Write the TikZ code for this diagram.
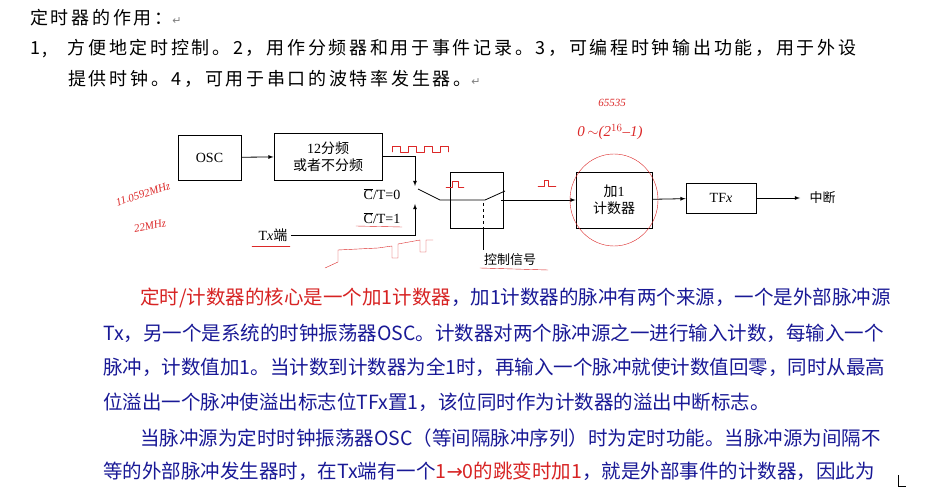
\documentclass[tikz,border=0pt]{standalone}
\usepackage{fontspec}
\setmainfont{Liberation Serif}
\newfontfamily\cjk{Noto Sans CJK SC}
\newfontfamily\cjkh{Noto Sans CJK SC}[LetterSpace=15]
\newfontfamily\cjkb{Noto Sans CJK SC}[AutoFakeBold=2.5]
\newfontfamily\arr{DejaVu Sans}
\usetikzlibrary{positioning,calc}
\definecolor{txtred}{RGB}{215,35,35}
\definecolor{txtblue}{RGB}{25,25,150}
\definecolor{pen}{RGB}{220,40,40}
\tikzset{
  blk/.style={draw, thick, minimum height=1.1cm, align=center, font=\fontsize{14}{17}\selectfont, inner sep=2pt},
  arrow/.style={thick,-latex},
  head/.style={anchor=west, inner sep=0pt, font=\cjkh\fontsize{18}{20}\selectfont},
  para/.style={anchor=west, inner sep=0pt, font=\cjkb\fontsize{19.5}{22}\selectfont, txtblue},
  hand/.style={pen, thin, line cap=round, line join=round}
}
\newcommand{\rt}[1]{\textcolor{txtred}{#1}}
\newcommand{\zh}[1]{{\cjk #1}}
\newcommand{\ret}{{\arr\color{gray}\fontsize{11}{11}\selectfont ↵}}
\begin{document}
\begin{tikzpicture}[x=1pt,y=-1pt]
\useasboundingbox[fill=white] (0,0) rectangle (948,489);

% heading
\node[head] (h1) at (30,18) {定时器的作用：\ret};
\node[head] (h2) at (30,49) {1,\hspace{1.1em}方便地定时控制。2，用作分频器和用于事件记录。3，可编程时钟输出功能，用于外设};
\node[head] (h3) at (68,79) {提供时钟。4，可用于串口的波特率发生器。\ret};

% blocks
\node[blk, minimum width=63pt, minimum height=45pt] (osc) at (209.5,157.5) {OSC};
\node[blk, minimum width=108pt, minimum height=47pt] (div) at (328,156.5) {12\zh{分频}\\\zh{或者不分频}};
\node[blk, minimum width=53pt, minimum height=56pt] (ctl) at (476.5,200) {};
\node[blk, minimum width=76pt, minimum height=56pt] (cnt) at (614,200) {\zh{加}1\\\zh{计数器}};
\node[blk, minimum width=70pt, minimum height=30pt] (tf) at (721,198) {TF\textit{x}};
\node[anchor=west, font=\cjk\fontsize{13}{15}\selectfont] (irq) at (806,198) {中断};
\node[anchor=west, font=\fontsize{14}{15}\selectfont] (tx) at (255,235) {T\textit{x}\zh{端}};
\node[font=\fontsize{14}{15}\selectfont] (ct0) at (382,194) {$\overline{\mathrm{C}}$/T=0};
\node[font=\fontsize{14}{15}\selectfont] (ct1) at (382,218) {$\overline{\mathrm{C}}$/T=1};
\node[font=\cjk\fontsize{13}{15}\selectfont] (sig) at (510,260) {控制信号};

% switch points
\coordinate (sw0) at (415,186);
\coordinate (sw1) at (415,204);
\coordinate (piv) at (440,200);
\coordinate (sin) at (485,200);
\coordinate (sout) at (505,191);
\coordinate (irqend) at (800,198);

% connectors
\draw[arrow] (osc) -- (div);
\draw[arrow] (div.east) -| (sw0);
\draw[arrow] (tx.east) -| (sw1);
\draw[thick] (418,189) -- (piv) -- (sin) -- (sout);
\draw[arrow] (501,200) -- (cnt);
\draw[thick, dashed] (483,203) -- (ctl.south -| 483,0);
\draw[thick] (ctl.south -| 483,0) -- (483,250);
\draw[arrow] (cnt) -- (tf);
\draw[arrow] (tf) -- (irqend);

% pen notes
\draw[hand] (cnt.center) ellipse (44pt and 46pt);
\draw[hand] (392,152) -- (392,146) -- (400,146) -- (400,152) -- (408,152) -- (408,146) -- (416,146) -- (416,152) -- (424,152) -- (424,146) -- (432,146) -- (432,152) -- (440,152) -- (440,146) -- (448,146) -- (448,152);
\draw[hand] (446,187) -- (452,187) -- (452,181) -- (458,181) -- (458,187) -- (464,187);
\draw[hand] (538,186) -- (544,186) -- (544,180) -- (548,180) -- (548,186) -- (556,186);
\draw[hand] (325,268) -- (338,262) -- (338,250) -- (378,248) -- (392,246) -- (392,258) -- (398,258) -- (398,244) -- (420,240) -- (420,252) -- (426,252) -- (426,240) -- (433,240);
\draw[hand] (356,226) -- (402,227);
\draw[hand] (252,246) -- (290,246);
\draw[hand] (480,268) -- (548,270);
\node[pen, font=\fontsize{11}{12}\selectfont\itshape] (n1) at (612,103) {65535};
\node[pen, font=\fontsize{15}{16}\selectfont\itshape] (n2) at (610,132) {0\,$\sim$(2$^{16}$--1)};
\node[pen, rotate=18, inner sep=0pt, font=\fontsize{11}{12}\selectfont\itshape] (n3) at (143,194) {11.0592MHz};
\node[pen, rotate=12, inner sep=0pt, font=\fontsize{11}{12}\selectfont\itshape] (n4) at (150,226) {22MHz};

% paragraph
\node[para] (p1) at (140,298) {\rt{定时/计数器的核心是一个加1计数器}，加1计数器的脉冲有两个来源，一个是外部脉冲源};
\node[para] (p2) at (103,333) {Tx，另一个是系统的时钟振荡器OSC。计数器对两个脉冲源之一进行输入计数，每输入一个};
\node[para] (p3) at (103,367) {脉冲，计数值加1。当计数到计数器为全1时，再输入一个脉冲就使计数值回零，同时从最高};
\node[para] (p4) at (103,402) {位溢出一个脉冲使溢出标志位TFx置1，该位同时作为计数器的溢出中断标志。};
\node[para] (p5) at (140,438) {当脉冲源为定时时钟振荡器OSC（等间隔脉冲序列）时为定时功能。当脉冲源为间隔不};
\node[para] (p6) at (103,471) {等的外部脉冲发生器时，在Tx端有一个\rt{1{\arr→}0的跳变时加1}，就是外部事件的计数器，因此为};
\draw[thin] (898,475) -- (898,486) -- (906,486);
\end{tikzpicture}
\end{document}
